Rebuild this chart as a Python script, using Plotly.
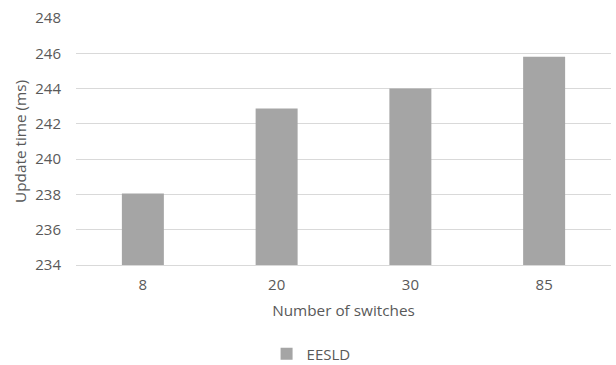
import plotly.graph_objects as go

switches = ["8", "20", "30", "85"]
update_ms = [238.05, 242.87, 244.0, 245.8]
y_ticks = [234, 236, 238, 240, 242, 244, 246, 248]

fig = go.Figure()
fig.add_trace(go.Bar(
    x=switches, y=update_ms, name="EESLD",
    marker=dict(color="#a5a5a5", line=dict(width=0)),
))

fig.update_layout(
    width=616, height=365,
    margin=dict(l=76, r=5, t=18, b=100),
    paper_bgcolor="white", plot_bgcolor="white",
    bargap=0.686,
    font=dict(family="Open Sans, Calibri, sans-serif", color="#595959", size=15),
    showlegend=True,
    legend=dict(orientation="h", xref="container", x=0.505, xanchor="center",
                yref="container", y=0.03, yanchor="middle",
                itemwidth=30,
                font=dict(size=15, color="#595959")),
    xaxis=dict(
        type="category", showgrid=False, zeroline=False,
        showline=True, linecolor="#d9d9d9", linewidth=1,
        ticks="", ticklabelstandoff=6,
        title=dict(text="Number of switches", font=dict(size=15.3, color="#595959"), standoff=12),
    ),
    yaxis=dict(
        range=[234, 248], tickvals=y_ticks, showgrid=True, gridcolor="#d9d9d9",
        gridwidth=1, zeroline=False, showline=False, ticks="",
        ticklabelstandoff=14,
        title=dict(text="Update time (ms)", font=dict(size=15.3, color="#595959"), standoff=4),
    ),
)
fig.write_html("out.html")
